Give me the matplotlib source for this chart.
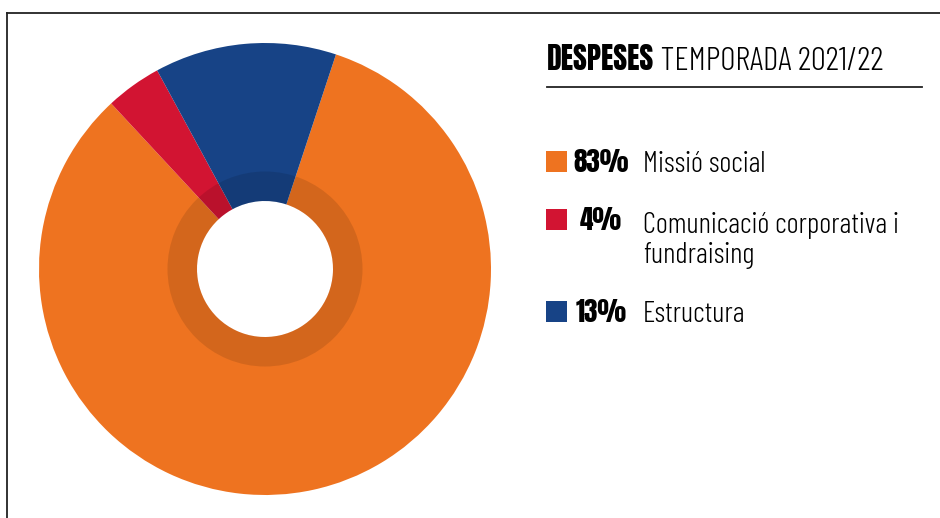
import matplotlib.pyplot as plt
from matplotlib.patches import Wedge, Rectangle
from matplotlib.lines import Line2D
from matplotlib import font_manager

# data
labels = ['Missió social', 'Comunicació corporativa i\nfundraising', 'Estructura']
shares = [83, 4, 13]
colors = ['#EE7320', '#D21432', '#174386']
title_bold = 'DESPESES'
title_rest = ' TEMPORADA 2021/22'

names = {f.name for f in font_manager.fontManager.ttflist}

def pick(prefs):
    for name, kw in prefs:
        if name in names:
            return dict(family=[name, 'DejaVu Sans'], **kw)
    return dict(family='DejaVu Sans', fontweight='bold', fontstretch='condensed')

heavy = pick([('Anton', {}), ('Bebas Neue', {}), ('Barlow Condensed', {'fontweight': 900}),
              ('Oswald', {'fontweight': 700}), ('Roboto Condensed', {'fontweight': 900}),
              ('Open Sans', {'fontweight': 800, 'fontstretch': 'condensed'})])
light = pick([('Barlow Condensed', {'fontweight': 300}), ('Roboto Condensed', {'fontweight': 300}),
              ('Oswald', {'fontweight': 300}),
              ('Open Sans', {'fontweight': 300, 'fontstretch': 'condensed'})])

W, H = 940, 518
fig = plt.figure(figsize=(W / 100, H / 100), dpi=100)
fig.patch.set_facecolor('white')

def fx(px):
    return px / W

def fy(py):
    return 1 - py / H

# frame (top + left only)
fig.add_artist(Line2D([fx(7), 1], [fy(13), fy(13)], color='#222222', lw=1.3))
fig.add_artist(Line2D([fx(7), fx(7)], [fy(13), 0], color='#222222', lw=1.3))

# donut
cx, cy, R = 265, 269, 226
ax = fig.add_axes([fx(cx - R), fy(cy + R), 2 * R / W, 2 * R / H])
ax.pie(shares, colors=colors, startangle=71.7, counterclock=False, radius=1,
       wedgeprops=dict(width=(R - 68) / R, linewidth=0))
ax.add_patch(Wedge((0, 0), 97.5 / R, 0, 360, width=(97.5 - 68) / R,
                   facecolor='black', alpha=0.11, linewidth=0))
ax.set_xlim(-1, 1)
ax.set_ylim(-1, 1)
ax.set_aspect('equal')
ax.axis('off')

# title
t1 = fig.text(fx(547), fy(70), title_bold, fontsize=21.5, color='black',
              va='baseline', ha='left', **heavy)
fig.canvas.draw()
bb = t1.get_window_extent()
fig.text(bb.x1 / W, fy(70), title_rest, fontsize=24, color='black',
         va='baseline', ha='left', **light)
fig.add_artist(Line2D([fx(547), fx(922)], [fy(87), fy(87)], color='#222222', lw=1.3))

# legend rows
sq_bottom = [172, 230, 322]
for lab, s, c, sb in zip(labels, shares, colors, sq_bottom):
    fig.add_artist(Rectangle((fx(546), fy(sb)), 21 / W, 21 / H,
                             facecolor=c, edgecolor='none', transform=fig.transFigure))
    fig.text(fx(601), fy(sb), f'{s}%', fontsize=19.5, ha='center', va='baseline',
             color='black', **heavy)
    lines = lab.split('\n')
    base = sb + (3 if len(lines) > 1 else 0)
    for i, line in enumerate(lines):
        fig.text(fx(643), fy(base + 30 * i), line, fontsize=21, ha='left',
                 va='baseline', color='black', **light)

fig.savefig('out.png', dpi=100)
